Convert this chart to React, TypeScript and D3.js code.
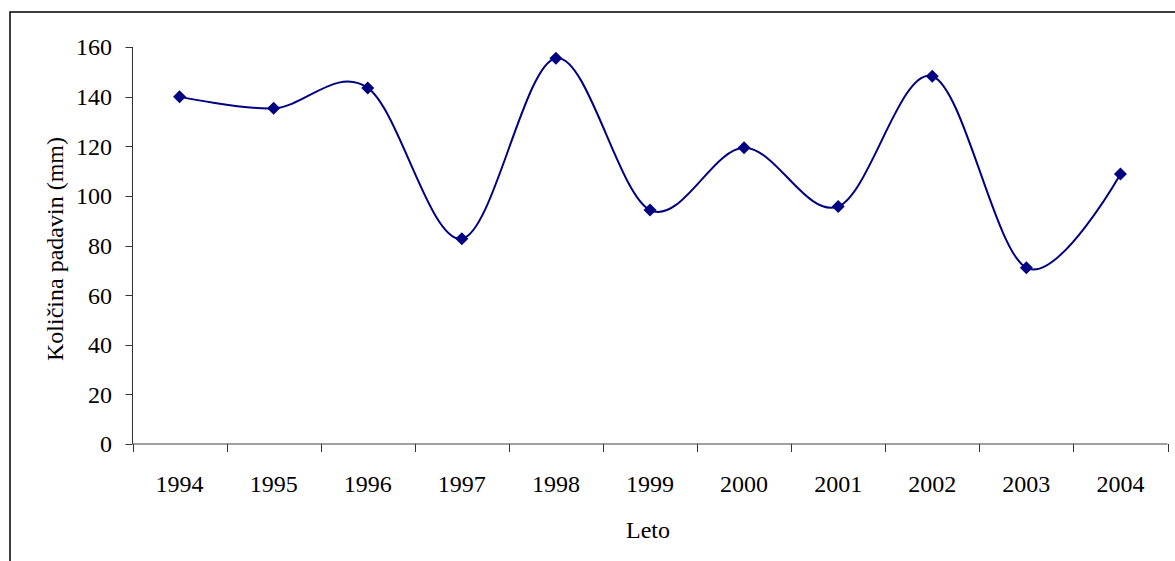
import React from "react";
import * as d3 from "d3";

const years = ["1994", "1995", "1996", "1997", "1998", "1999", "2000", "2001", "2002", "2003", "2004"];
const rainfall = [140, 135.3, 143.5, 82.7, 155.5, 94.3, 119.4, 95.7, 148.2, 71, 108.8];
const yTicks = [0, 20, 40, 60, 80, 100, 120, 140, 160];

const W = 1175;
const H = 561;
const left = 132.5;
const right = 1167.5;
const top = 47;
const bottom = 444;
const FS = 24;

export default function App() {
  const x = d3.scaleBand<string>().domain(years).range([left, right]);
  const y = d3.scaleLinear().domain([0, 160]).range([bottom, top]);
  const pts: [number, number][] = years.map((yr, i) => [x(yr)! + x.bandwidth() / 2, y(rainfall[i])]);
  const line = d3.line().curve(d3.curveCardinal.tension(0))(pts) || "";
  const ts = { fontFamily: "Liberation Serif" } as React.CSSProperties;
  const boundaries = [...years.map((yr) => x(yr)!), right];

  return (
    <svg width={W} height={H} style={{ position: "absolute", left: 0, top: 0, background: "#fff" }}>
      <rect x={10} y={12} width={W + 20} height={H + 20} fill="#fff" stroke="#000" strokeWidth={1.5} />
      {/* y axis */}
      <line x1={left} x2={left} y1={top} y2={bottom} stroke="#333" strokeWidth={1} />
      {yTicks.map((t) => (
        <g key={t}>
          <line x1={left - 7} x2={left} y1={Math.round(y(t)) + 0.5} y2={Math.round(y(t)) + 0.5} stroke="#333" />
          <text x={112} y={y(t)} dy="0.35em" textAnchor="end" fontSize={FS} fill="#000" style={ts}>
            {t}
          </text>
        </g>
      ))}
      {/* x axis */}
      <line x1={left} x2={right} y1={bottom} y2={bottom} stroke="#808080" strokeWidth={1.5} />
      {boundaries.map((b, i) => (
        <line key={i} x1={Math.round(b) + 0.5} x2={Math.round(b) + 0.5} y1={bottom} y2={bottom + 8} stroke="#333" />
      ))}
      {years.map((yr) => (
        <text key={yr} x={x(yr)! + x.bandwidth() / 2} y={492} textAnchor="middle" fontSize={FS} fill="#000" style={ts}>
          {yr}
        </text>
      ))}
      <text x={648} y={538} textAnchor="middle" fontSize={FS} fill="#000" style={ts}>
        Leto
      </text>
      <text transform="translate(63, 249) rotate(-90)" textAnchor="middle" fontSize={FS} fill="#000" style={ts}>
        Količina padavin (mm)
      </text>
      <path d={line} fill="none" stroke="#000080" strokeWidth={2} />
      {pts.map(([px, py], i) => (
        <path key={i} d={`M${px},${py - 6.5}L${px + 6.5},${py}L${px},${py + 6.5}L${px - 6.5},${py}Z`} fill="#000080" />
      ))}
    </svg>
  );
}
